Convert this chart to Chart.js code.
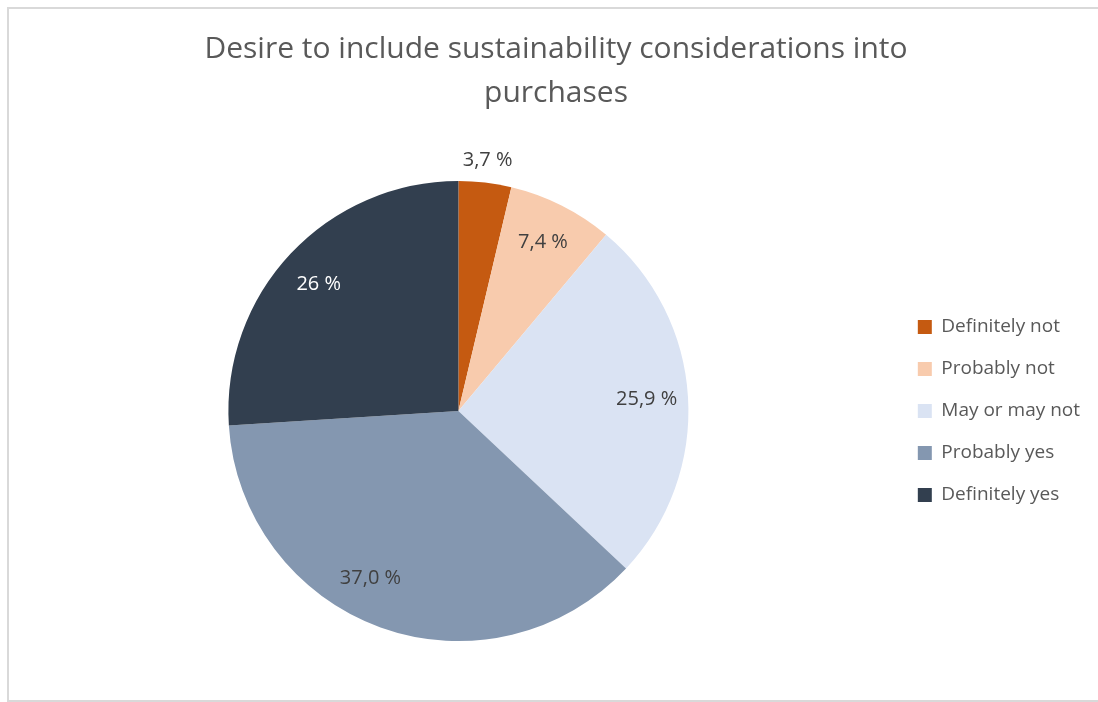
<!DOCTYPE html>
<html>
<head>
<meta charset="utf-8">
<script src="https://cdn.jsdelivr.net/npm/chart.js@4"></script>
<style>
  html, body { margin: 0; padding: 0; background: #fff; overflow: hidden; }
  body { width: 1098px; height: 702px; position: relative; }
  #frame { position: absolute; left: 7px; top: 7px; width: 1091px; height: 695px; border: 2px solid #d9d9d9; border-right: none; box-sizing: border-box; }
  #wrap { position: absolute; left: 0; top: 0; width: 1098px; height: 702px; }
</style>
</head>
<body>
<div id="frame"></div>
<div id="wrap"><canvas id="chart"></canvas></div>
<script>
const categories = ['Definitely not', 'Probably not', 'May or may not', 'Probably yes', 'Definitely yes'];
const shares = [3.7, 7.4, 25.9, 37.0, 26];
const shareLabels = ['3,7 %', '7,4 %', '25,9 %', '37,0 %', '26 %'];
const sliceColors = ['#C55A11', '#F8CBAD', '#DAE3F3', '#8497B0', '#323F4F'];
const labelColors = ['#404040', '#404040', '#404040', '#404040', '#ffffff'];

const FONT = "'Open Sans', sans-serif";

// draws the percentage labels; thin slices get their label outside the pie
const sliceLabels = {
    id: 'sliceLabels',
    afterDatasetsDraw(chart, args, opts) {
        const ctx = chart.ctx;
        const meta = chart.getDatasetMeta(0);
        ctx.save();
        ctx.font = '20px ' + FONT;
        ctx.textAlign = 'center';
        ctx.textBaseline = 'middle';
        meta.data.forEach((arc, i) => {
            const p = arc.getProps(['x', 'y', 'startAngle', 'endAngle', 'outerRadius'], true);
            // Excel's best-fit placement turns a few labels off the slice middle
            const mid = (p.startAngle + p.endAngle) / 2 + (opts.turn[i] || 0) * Math.PI / 180;
            const outside = shares[i] < 5;
            const r = outside ? p.outerRadius + 22 : p.outerRadius * 0.82;
            ctx.fillStyle = outside ? '#404040' : labelColors[i];
            ctx.fillText(shareLabels[i], p.x + Math.cos(mid) * r, p.y + Math.sin(mid) * r);
        });
        ctx.restore();
    }
};

new Chart(document.getElementById('chart'), {
    type: 'pie',
    data: {
        labels: categories,
        datasets: [{
            data: shares,
            backgroundColor: sliceColors,
            borderWidth: 0
        }]
    },
    options: {
        responsive: true,
        maintainAspectRatio: false,
        animation: false,
        layout: { padding: { left: 22, right: 8, top: 0, bottom: 61 } },
        plugins: {
            title: {
                display: true,
                text: ['Desire to include sustainability considerations into', 'purchases'],
                color: '#595959',
                font: { family: FONT, size: 30, weight: 'normal', lineHeight: 1.45 },
                padding: { top: 28, bottom: 66 }
            },
            legend: {
                position: 'right',
                fullSize: false,
                labels: {
                    color: '#595959',
                    font: { family: FONT, size: 19 },
                    boxWidth: 14,
                    boxHeight: 14,
                    padding: 23
                }
            },
            sliceLabels: { turn: [0, 0, 0, 8, -1] },
            tooltip: { enabled: false }
        }
    },
    plugins: [sliceLabels]
});
</script>
</body>
</html>
